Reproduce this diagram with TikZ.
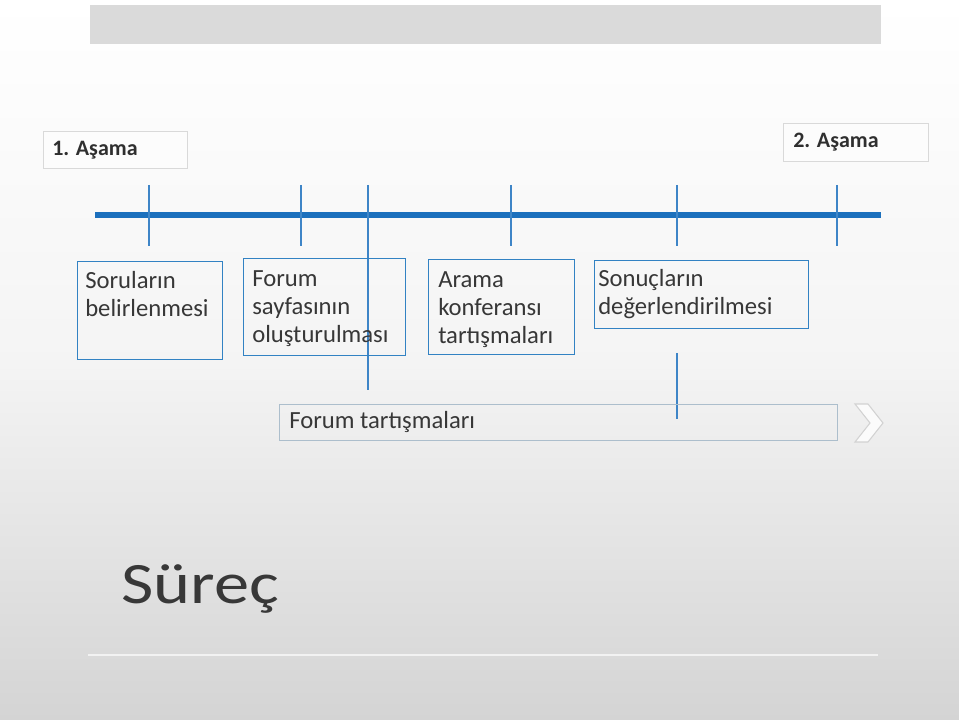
\documentclass[tikz,border=0pt]{standalone}
\usepackage{graphicx}
\usepackage{fontspec}
\setmainfont{Carlito}
\newlength\pxu
\setlength\pxu{0.75pt}
\newcommand{\linesT}[1]{\begin{tabular}[t]{@{}l@{}}#1\end{tabular}}
\definecolor{tlblue}{RGB}{28,112,189}
\definecolor{bxblue}{RGB}{50,130,195}
\definecolor{txtgray}{RGB}{55,55,55}
\definecolor{bargray}{RGB}{218,218,218}
\definecolor{bgbottom}{RGB}{212,212,212}
\definecolor{barline}{RGB}{172,190,204}
\tikzset{
  stagebox/.style={draw=black!15, line width=0.8pt, fill=white!60!gray!5, anchor=north west, inner sep=0pt},
  stagetxt/.style={font=\fontsize{16.5}{20}\selectfont\bfseries, text=txtgray!85!black, anchor=base west, inner sep=0pt},
  stepbox/.style={draw=bxblue, line width=1.1pt, anchor=north west, inner sep=0pt},
  steptxt/.style={font=\fontsize{18.5}{21}\selectfont, text=txtgray, anchor=base west, inner sep=0pt},
  tick/.style={draw=tlblue!85, line width=1.1pt},
  barbox/.style={draw=barline, line width=0.8pt, anchor=north west, inner sep=0pt},
}
\begin{document}
\begin{tikzpicture}[x=0.75pt,y=-0.75pt]
\useasboundingbox (0,0) rectangle (959,720);
\shade[top color=white, bottom color=bgbottom, middle color=white!75!bgbottom] (0,0) rectangle (959,720);
% top grey bar
\node[fill=bargray, anchor=north west, minimum width=791\pxu, minimum height=39\pxu, inner sep=0pt] (topbar) at (90,5) {};
% stage labels
\node[stagebox, minimum width=144\pxu, minimum height=37\pxu] (s1) at (43,131) {};
\node[stagetxt] (s1t) at (52,156) {1. Aşama};
\node[stagebox, minimum width=145\pxu, minimum height=38\pxu] (s2) at (783,123) {};
\node[stagetxt] (s2t) at (793,148) {2. Aşama};
% timeline
\coordinate (tlA) at (95,215);
\coordinate (tlB) at (881,215);
\draw[tlblue, line width=4pt] (tlA) -- (tlB);
% ticks
\foreach \xx in {149,301,511,677,837}{
  \draw[tick] (\xx,185) -- (\xx,246);
}
\draw[tick] (368,185) -- (368,390);
\draw[tick] (677,353) -- (677,419);
% step boxes
\node[stepbox, minimum width=145\pxu, minimum height=98\pxu] (b1) at (77,261) {};
\node[steptxt] (b1t) at (85,288) {\linesT{Soruların\\belirlenmesi}};
\node[stepbox, minimum width=162\pxu, minimum height=97\pxu] (b2) at (243,258) {};
\node[steptxt] (b2t) at (252,286) {\linesT{Forum\\sayfasının\\oluşturulması}};
\node[stepbox, minimum width=146\pxu, minimum height=95\pxu] (b3) at (428,259) {};
\node[steptxt] (b3t) at (438,287) {\linesT{Arama\\konferansı\\tartışmaları}};
\node[stepbox, minimum width=214\pxu, minimum height=68\pxu] (b4) at (594,260) {};
\node[steptxt] (b4t) at (598,286) {\linesT{Sonuçların\\değerlendirilmesi}};
% forum bar
\node[barbox, minimum width=558\pxu, minimum height=36\pxu] (fb) at (279,404) {};
\node[steptxt] (fbt) at (289,428) {Forum tartışmaları};
% chevron
\draw[gray!35, line width=0.8pt, fill=white!60!gray!8] (855,404) -- (868,404) -- (883,423) -- (868,442) -- (855,442) -- (870,423) -- cycle;
% title
\node[font=\fontsize{44}{50}\selectfont, text=black!78, anchor=base west, inner sep=0pt] (title) at (121,603) {\scalebox{1.2}[1]{Süreç}};
% faint rule
\draw[white!70!bgbottom, line width=0.8pt] (88,655) -- (878,655);
\end{tikzpicture}
\end{document}
